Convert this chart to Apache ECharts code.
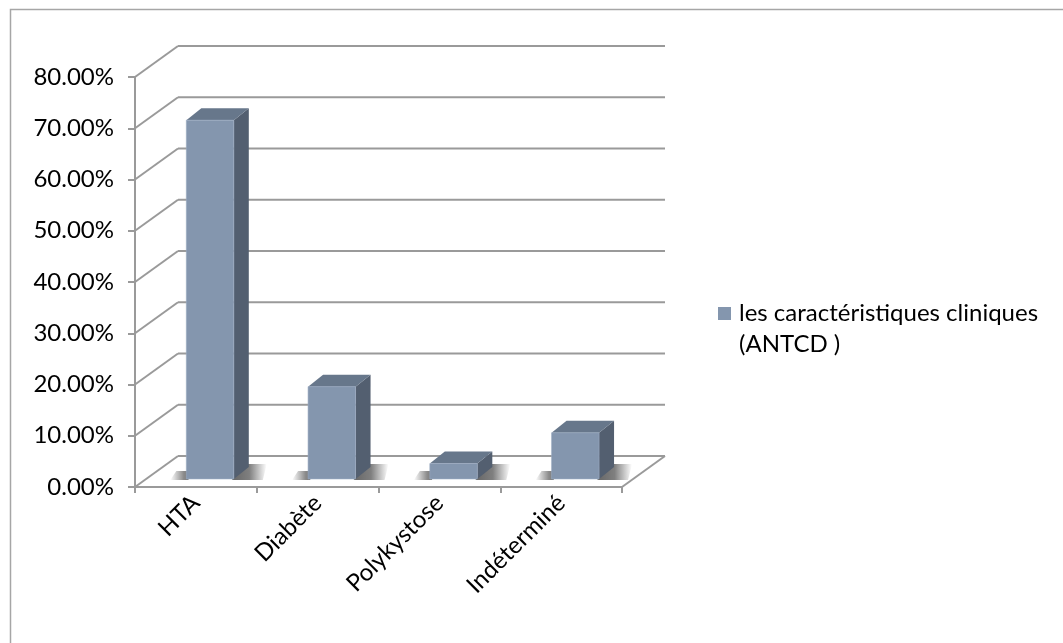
<!DOCTYPE html>
<html>
<head>
<meta charset="utf-8">
<script src="https://cdn.jsdelivr.net/npm/echarts@6/dist/echarts.min.js"></script>
<style>
html,body{margin:0;padding:0;background:#fff;}
#main{width:1063px;height:643px;}
</style>
</head>
<body>
<div id="main"></div>
<script>
// ---- data ----
var categories = ['HTA', 'Diabète', 'Polykystose', 'Indéterminé'];
var values = [0.70, 0.18, 0.03, 0.09];
var seriesName = 'les caractéristiques cliniques (ANTCD )';
var yTicks = [0, 0.1, 0.2, 0.3, 0.4, 0.5, 0.6, 0.7, 0.8];

// ---- style constants ----
var FONT = 'Lato';
var FS = 24;
var DX = 43, DY = -31;          // wall depth
var BDX = 15, BDY = -12;        // bar depth
var BAR_SHIFT = 0.26;           // bar position along depth
var BAR_W = 0.39;               // bar width as fraction of band
var GRID_COLOR = '#9a9a9a';
var C_FRONT = '#8496ae', C_TOP = '#67778b', C_SIDE = '#535f70';

var chart = echarts.init(document.getElementById('main'), null, {renderer: 'canvas'});

function wallsItem(params, api) {
  var cs = params.coordSys;
  var v = api.value(0);
  var y = api.coord([0, v])[1];
  var x0 = cs.x, x1 = cs.x + cs.width;
  var children = [
    {type: 'line', shape: {x1: x0, y1: y, x2: x0 + DX, y2: y + DY},
     style: {stroke: GRID_COLOR, lineWidth: 2}},
    {type: 'line', shape: {x1: x0 + DX, y1: y + DY, x2: x1 + DX, y2: y + DY},
     style: {stroke: GRID_COLOR, lineWidth: 2}}
  ];
  if (v === 0) {
    children.push({type: 'line', shape: {x1: x1, y1: y, x2: x1 + DX, y2: y + DY},
      style: {stroke: GRID_COLOR, lineWidth: 2}});
  }
  return {type: 'group', children: children};
}

function hGrad(stops) {
  return {type: 'linear', x: 0, y: 0, x2: 1, y2: 0, global: false,
    colorStops: stops.map(function (s) { return {offset: s[0], color: s[1]}; })};
}

function barItem(params, api) {
  var i = api.value(0), v = api.value(1);
  var base = api.coord([i, 0]);
  var top = api.coord([i, v]);
  var band = api.size([1, 0])[0];
  var w = band * BAR_W;
  var sx = DX * BAR_SHIFT + 3, sy = DY * BAR_SHIFT;
  var x0 = base[0] + sx - w / 2, x1 = x0 + w;
  var yb = base[1] + sy, yt = top[1] + sy;
  return {type: 'group', children: [
    // soft floor shadow, left of the bar
    {type: 'polygon', z2: 1,
     shape: {points: [[x0 - 16, yb + 1], [x0 + 2, yb + 1], [x0 + 6, yb - 8], [x0 - 10, yb - 8]]},
     style: {fill: hGrad([[0, 'rgba(0,0,0,0)'], [0.6, 'rgba(0,0,0,0.45)'], [1, 'rgba(0,0,0,0.6)']])}},
    // soft floor shadow, right of the bar
    {type: 'polygon', z2: 1,
     shape: {points: [[x1 - 2, yb + 1], [x1 + BDX + 14, yb + 1], [x1 + BDX + 18, yb + BDY - 3], [x1 + BDX - 2, yb + BDY - 3]]},
     style: {fill: hGrad([[0, 'rgba(0,0,0,0.6)'], [0.5, 'rgba(0,0,0,0.5)'], [1, 'rgba(0,0,0,0)']])}},
    {type: 'polygon', z2: 2,
     shape: {points: [[x1, yt], [x1 + BDX, yt + BDY], [x1 + BDX, yb + BDY], [x1, yb]]},
     style: {fill: C_SIDE}},
    {type: 'polygon', z2: 3,
     shape: {points: [[x0, yt], [x0 + BDX, yt + BDY], [x1 + BDX, yt + BDY], [x1, yt]]},
     style: {fill: C_TOP}},
    {type: 'rect', z2: 4,
     shape: {x: x0, y: yt, width: w, height: yb - yt},
     style: {fill: C_FRONT, stroke: '#9aabc2', lineWidth: 0.6}}
  ]};
}

var option = {
  backgroundColor: '#ffffff',
  animation: false,
  textStyle: {fontFamily: FONT},
  graphic: [
    {type: 'rect', left: 8, top: 7, shape: {width: 1100, height: 700},
     style: {fill: 'none', stroke: '#a6a6a6', lineWidth: 1.5}, silent: true}
  ],
  legend: {
    left: 718, top: 267, padding: 0,
    icon: 'rect', itemWidth: 13, itemHeight: 13, itemGap: 5,
    data: [seriesName],
    formatter: function () {
      return '\nles caractéristiques cliniques\n(ANTCD )';
    },
    textStyle: {fontFamily: FONT, fontSize: FS, color: '#000', lineHeight: 31, padding: [0, 0, 0, 3]}
  },
  grid: {left: 135, right: 441, top: 77, bottom: 156, containLabel: false},
  xAxis: {
    type: 'category', data: categories,
    axisLine: {show: true, lineStyle: {color: GRID_COLOR, width: 2}},
    axisTick: {show: true, interval: 0, length: 6, lineStyle: {color: GRID_COLOR, width: 2}},
    axisLabel: {rotate: 45, interval: 0, margin: 12, fontFamily: FONT, fontSize: FS, color: '#000'},
    splitLine: {show: false}
  },
  yAxis: {
    type: 'value', min: 0, max: 0.8, interval: 0.1,
    axisLine: {show: true, lineStyle: {color: GRID_COLOR, width: 2}},
    axisTick: {show: true, length: 7, lineStyle: {color: GRID_COLOR, width: 2}},
    axisLabel: {margin: 21, fontFamily: FONT, fontSize: FS, color: '#000',
      formatter: function (v) { return (v * 100).toFixed(2) + '%'; }},
    splitLine: {show: false}
  },
  series: [
    {type: 'custom', name: 'walls', z: 1, silent: true,
     renderItem: wallsItem,
     data: yTicks.map(function (t) { return [t]; }),
     encode: {y: 0}},
    {type: 'custom', name: seriesName, z: 3,
     itemStyle: {color: C_FRONT},
     renderItem: barItem,
     data: values.map(function (v, i) { return [i, v]; }),
     encode: {x: 0, y: 1}}
  ]
};
chart.setOption(option);
</script>
</body>
</html>
